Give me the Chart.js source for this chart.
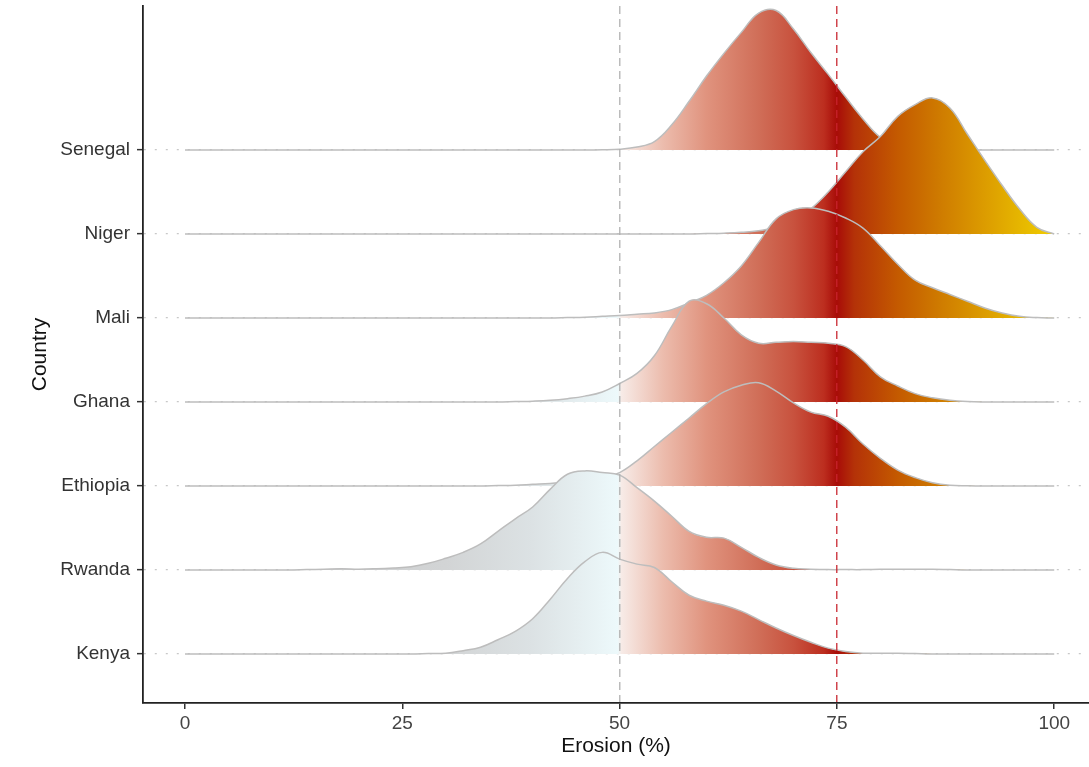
<!DOCTYPE html>
<html>
<head>
<meta charset="utf-8">
<script src="https://cdn.jsdelivr.net/npm/chart.js@4/dist/chart.umd.min.js"></script>
<style>
  body { margin: 0; background: #fff; }
</style>
</head>
<body>
<canvas id="ridges" width="1089" height="767"></canvas>
<script>
// countries, top row first
const countries = ['Senegal', 'Niger', 'Mali', 'Ghana', 'Ethiopia', 'Rwanda', 'Kenya'];

// erosion grid, 0..100 step 2
const erosionX = [
  0, 2, 4, 6, 8, 10, 12, 14, 16, 18, 20, 22, 24, 26, 28, 30, 32, 34, 36, 38, 40, 42, 44, 46, 48,
  50, 52, 54, 56, 58, 60, 62, 64, 66, 68, 70, 72, 74, 76, 78, 80, 82, 84, 86, 88, 90, 92, 94, 96, 98, 100
];

// ridge heights (in row units)
const senegal = [
  0, 0, 0, 0, 0, 0, 0, 0, 0, 0, 0, 0, 0, 0, 0, 0, 0, 0, 0, 0, 0, 0, 0, 0, 0.003,
  0.01, 0.035, 0.10, 0.30, 0.58, 0.88, 1.15, 1.40, 1.63, 1.66, 1.44, 1.16, 0.90, 0.63, 0.37, 0.15, 0.05, 0.012, 0.003, 0, 0, 0, 0, 0, 0, 0
];
const niger = [
  0, 0, 0, 0, 0, 0, 0, 0, 0, 0, 0, 0, 0, 0, 0, 0, 0, 0, 0, 0, 0, 0, 0, 0, 0,
  0, 0, 0, 0, 0, 0.005, 0.01, 0.02, 0.04, 0.08, 0.17, 0.30, 0.50, 0.74, 0.98, 1.16, 1.40, 1.54, 1.62, 1.50, 1.19, 0.88, 0.58, 0.30, 0.08, 0
];
const mali = [
  0, 0, 0, 0, 0, 0, 0, 0, 0, 0, 0, 0, 0, 0, 0, 0, 0, 0, 0, 0, 0, 0, 0.005, 0.01, 0.02,
  0.03, 0.045, 0.06, 0.10, 0.18, 0.27, 0.42, 0.62, 0.90, 1.18, 1.29, 1.31, 1.27, 1.19, 1.07, 0.86, 0.64, 0.45, 0.36, 0.28, 0.20, 0.12, 0.06, 0.02, 0.005, 0
];
const ghana = [
  0, 0, 0, 0, 0, 0, 0, 0, 0, 0, 0, 0, 0, 0, 0, 0, 0, 0, 0, 0.005, 0.01, 0.02, 0.04, 0.07, 0.12,
  0.22, 0.34, 0.55, 0.90, 1.20, 1.17, 1.00, 0.80, 0.70, 0.71, 0.72, 0.71, 0.70, 0.66, 0.50, 0.30, 0.19, 0.10, 0.05, 0.02, 0.005, 0, 0, 0, 0, 0
];
const ethiopia = [
  0, 0, 0, 0, 0, 0, 0, 0, 0, 0, 0, 0, 0, 0, 0, 0, 0, 0, 0.005, 0.01, 0.02, 0.03, 0.05, 0.07, 0.10,
  0.16, 0.30, 0.47, 0.64, 0.81, 0.98, 1.12, 1.20, 1.23, 1.13, 0.99, 0.88, 0.83, 0.70, 0.50, 0.33, 0.19, 0.10, 0.04, 0.01, 0.003, 0, 0, 0, 0, 0
];
const rwanda = [
  0, 0, 0, 0, 0, 0, 0, 0.005, 0.01, 0.015, 0.01, 0.015, 0.025, 0.04, 0.08, 0.14, 0.21, 0.31, 0.46, 0.61, 0.75, 0.96, 1.14, 1.18, 1.16,
  1.13, 0.98, 0.82, 0.64, 0.46, 0.39, 0.38, 0.27, 0.15, 0.06, 0.02, 0.01, 0.005, 0.005, 0.005, 0.01, 0.01, 0.01, 0.01, 0.005, 0, 0, 0, 0, 0, 0
];
const kenya = [
  0, 0, 0, 0, 0, 0, 0, 0, 0, 0, 0, 0, 0, 0, 0.005, 0.01, 0.04, 0.08, 0.17, 0.27, 0.42, 0.65, 0.90, 1.10, 1.21,
  1.13, 1.07, 1.03, 0.86, 0.70, 0.63, 0.58, 0.51, 0.41, 0.31, 0.22, 0.14, 0.07, 0.03, 0.01, 0.01, 0.01, 0.005, 0, 0, 0, 0, 0, 0, 0, 0
];
const ridges = [senegal, niger, mali, ghana, ethiopia, rwanda, kenya];

const xTicks = [0, 25, 50, 75, 100];
const refLow = 50;
const refHigh = 75;

// fill colour by erosion value
const fillStops = [
  [0, '#c9cacb'], [30, '#d2d4d5'], [40, '#dce2e4'], [49.8, '#edf9fb'], [50.2, '#f7ebe7'],
  [55, '#ecbcad'], [60, '#e0937e'], [66, '#d06e58'], [70, '#c8523e'], [73.5, '#bc2e1f'],
  [75, '#a80c08'], [77, '#b43208'], [82, '#c45a00'], [87, '#cf7c00'], [92, '#dc9c00'],
  [97, '#e8bc00'], [100, '#f2cc00']
];

function erosionFill(ctx) {
  const chart = ctx.chart;
  if (!chart.chartArea) return null;
  const xs = chart.scales.x;
  const g = chart.ctx.createLinearGradient(xs.getPixelForValue(0), 0, xs.getPixelForValue(100), 0);
  fillStops.forEach(s => g.addColorStop(s[0] / 100, s[1]));
  return g;
}

// bottom row first so it is drawn on top
const datasets = [];
for (let i = countries.length - 1; i >= 0; i--) {
  const base = countries.length - i;
  datasets.push({
    label: countries[i],
    data: erosionX.map((x, k) => ({x: x, y: base + ridges[i][k]})),
    fill: {value: base},
    backgroundColor: erosionFill,
    borderColor: '#bdbdbd',
    borderWidth: 1.5,
    pointRadius: 0,
    tension: 0.4
  });
}

const configRidges = {
  type: 'line',
  data: {datasets: datasets},
  options: {
    responsive: false,
    animation: false,
    layout: {padding: {top: 6, right: 0, left: 0, bottom: 0}},
    plugins: {
      legend: {display: false},
      tooltip: {enabled: false}
    },
    scales: {
      x: {
        type: 'linear',
        min: -4.83,
        max: 104,
        afterBuildTicks: s => { s.ticks = xTicks.map(v => ({value: v})); },
        afterFit: s => { s.height = 64; s.paddingLeft = 0; s.paddingRight = 0; },
        grid: {
          z: 1,
          lineWidth: 1.5,
          color: c => c.tick && c.tick.value === refLow ? 'rgba(175,175,175,0.85)'
            : c.tick && c.tick.value === refHigh ? 'rgba(200,35,45,0.85)' : 'rgba(0,0,0,0)',
          tickColor: '#333',
          tickLength: 6,
          tickWidth: 1.5
        },
        border: {display: true, z: 1, color: '#222', width: 1.8, dash: [8, 5]},
        ticks: {
          color: '#444',
          padding: 3,
          maxRotation: 0,
          font: {family: 'Liberation Sans, Arial, sans-serif', size: 19}
        },
        title: {
          display: true,
          text: 'Erosion (%)',
          color: '#111',
          padding: {top: 0, bottom: 8},
          font: {family: 'Liberation Sans, Arial, sans-serif', size: 21}
        }
      },
      y: {
        type: 'linear',
        min: 0.417,
        max: 8.714,
        afterBuildTicks: s => { s.ticks = countries.map((c, i) => ({value: countries.length - i})); },
        afterFit: s => { s.width = 143; s.paddingTop = 0; s.paddingBottom = 0; },
        grid: {
          color: '#c8c8c8',
          lineWidth: 1.3,
          tickColor: '#333',
          tickLength: 6,
          tickWidth: 1.5
        },
        border: {display: true, color: '#222', width: 1.8, dash: [2, 9]},
        ticks: {
          color: '#333',
          padding: 7,
          callback: v => countries[countries.length - v],
          font: {family: 'Liberation Sans, Arial, sans-serif', size: 19}
        },
        title: {
          display: true,
          text: 'Country',
          color: '#111',
          padding: {top: 28, bottom: 0},
          font: {family: 'Liberation Sans, Arial, sans-serif', size: 21}
        }
      }
    }
  }
};

const chartRidges = new Chart(document.getElementById('ridges'), configRidges);
</script>
</body>
</html>
